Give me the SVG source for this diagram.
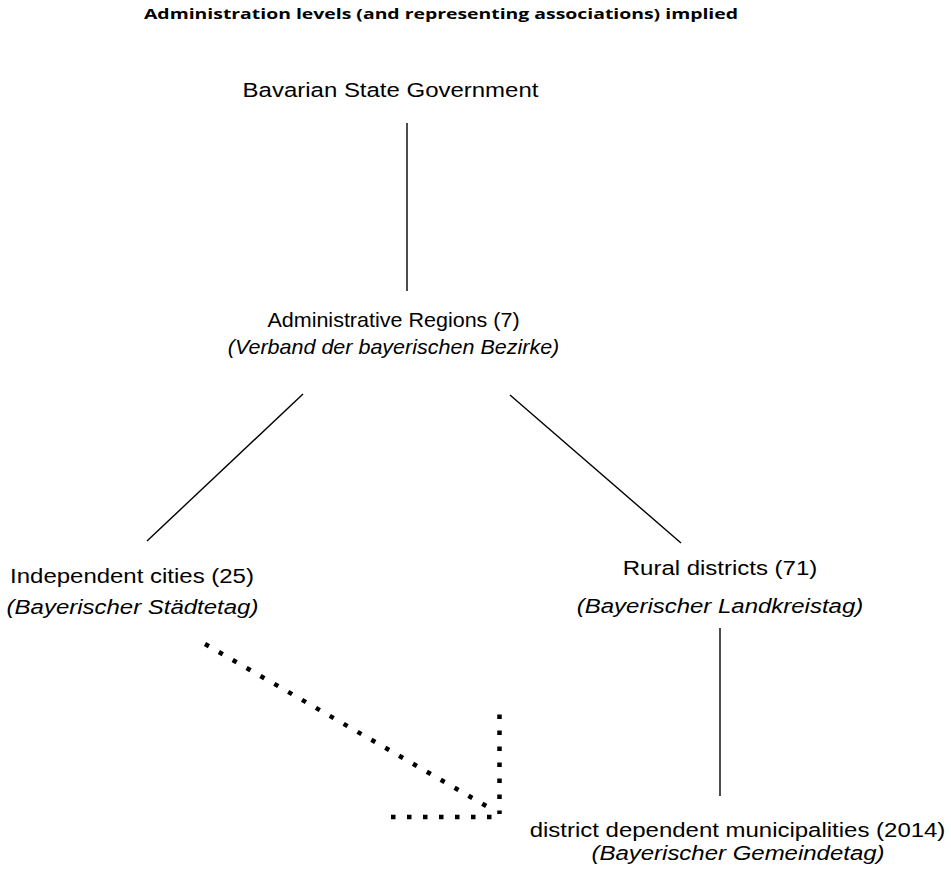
<svg xmlns="http://www.w3.org/2000/svg" width="951" height="875" viewBox="0 0 951 875">
  <style>
    .title { font-family: "Open Sans", "Noto Sans", sans-serif; font-weight: bold; font-size: 14.5px; fill: #000; }
    .lbl { font-family: "Liberation Sans", Arial, sans-serif; font-size: 20.5px; fill: #000; text-anchor: middle; }
    .assoc { font-style: italic; }
    .solid { stroke: #000; stroke-width: 1.4; fill: none; }
    .dotted { stroke: #000; stroke-width: 4.5; stroke-dasharray: 4.5 11.5; fill: none; }
  </style>
  <rect width="951" height="875" fill="#fff"/>

  <text class="title" x="441" y="18.5" text-anchor="middle" textLength="594" lengthAdjust="spacingAndGlyphs">Administration levels (and representing associations) implied</text>

  <g id="connectors">
    <line class="solid" x1="407" y1="123" x2="407" y2="291"/>
    <line class="solid" x1="303" y1="394" x2="147" y2="541"/>
    <line class="solid" x1="510" y1="395" x2="681" y2="543"/>
    <line class="solid" x1="720" y1="628" x2="720" y2="796"/>
    <line class="dotted" x1="205" y1="644" x2="495" y2="811"/>
    <line class="dotted" x1="499.5" y1="714.5" x2="499.5" y2="814"/>
    <line class="dotted" x1="391" y1="817" x2="499" y2="817"/>
  </g>

  <!-- labels are set slightly widened about each line's centre -->
  <g id="state-government">
    <text class="lbl" transform="translate(390.5 97.3) scale(1.17 1)">Bavarian State Government</text>
  </g>
  <g id="administrative-regions">
    <text class="lbl" transform="translate(393.5 327) scale(1.05 1)">Administrative Regions (7)</text>
    <text class="lbl assoc" transform="translate(393.5 354) scale(1.05 1)">(Verband der bayerischen Bezirke)</text>
  </g>
  <g id="independent-cities">
    <text class="lbl" transform="translate(132 583) scale(1.17 1)">Independent cities (25)</text>
    <text class="lbl assoc" transform="translate(132.5 614) scale(1.17 1)">(Bayerischer Städtetag)</text>
  </g>
  <g id="rural-districts">
    <text class="lbl" transform="translate(720 575) scale(1.17 1)">Rural districts (71)</text>
    <text class="lbl assoc" transform="translate(720 613) scale(1.17 1)">(Bayerischer Landkreistag)</text>
  </g>
  <g id="municipalities">
    <text class="lbl" transform="translate(737.5 836.7) scale(1.17 1)">district dependent municipalities (2014)</text>
    <text class="lbl assoc" transform="translate(738 860) scale(1.17 1)">(Bayerischer Gemeindetag)</text>
  </g>
</svg>
